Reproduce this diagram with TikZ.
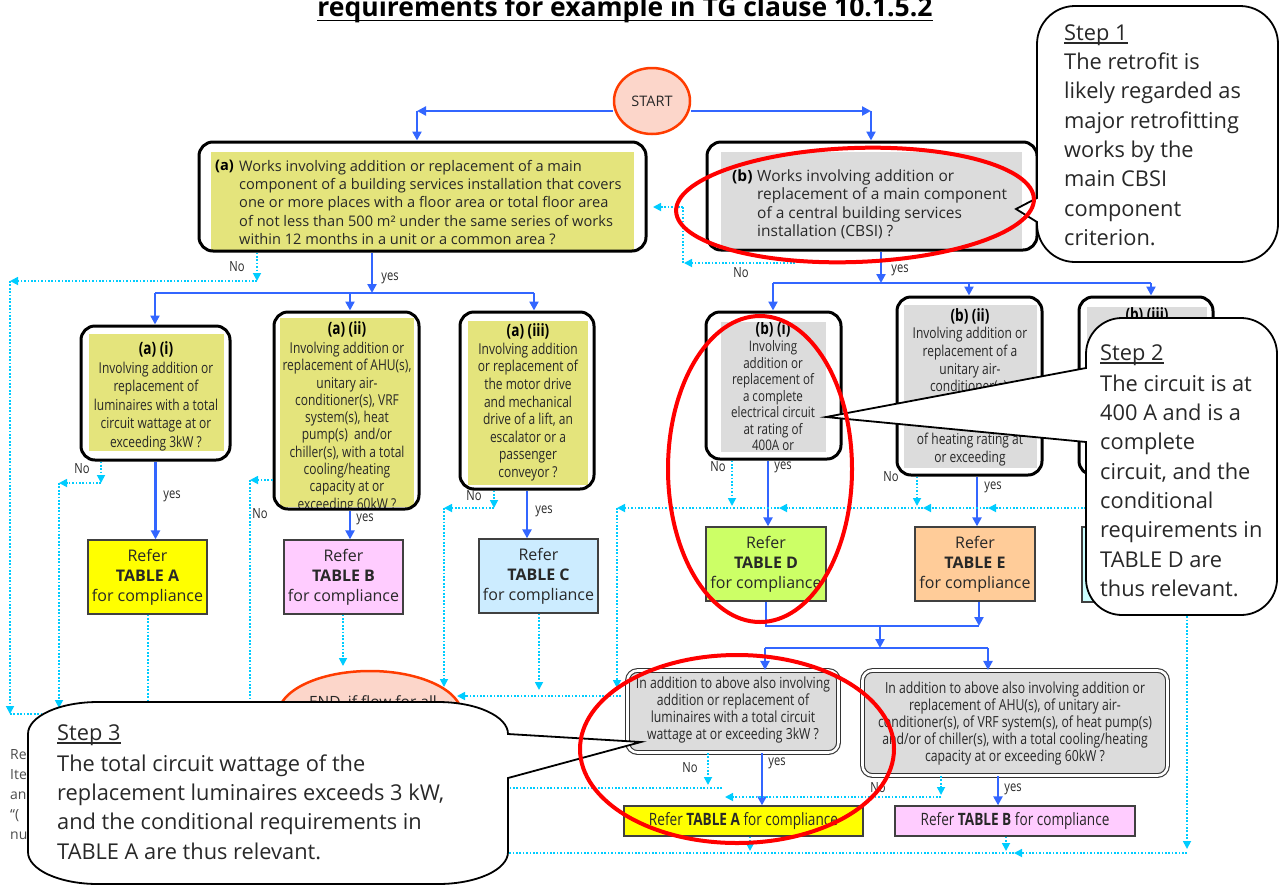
\documentclass[tikz,border=0pt]{standalone}
\usepackage{fontspec}
\setmainfont{Open Sans}
\newfontfamily\cf{Open Sans}[FakeStretch=0.8]
\usetikzlibrary{arrows.meta,shapes.geometric}
\definecolor{ygfill}{RGB}{228,228,124}
\definecolor{grayfill}{RGB}{220,220,220}
\definecolor{startfill}{RGB}{252,214,202}
\definecolor{startdraw}{RGB}{255,60,0}
\definecolor{myblue}{RGB}{51,102,255}
\definecolor{mycyan}{RGB}{0,204,255}
\definecolor{txt}{RGB}{40,40,40}
\definecolor{tAfill}{RGB}{255,255,0}
\definecolor{tBfill}{RGB}{255,204,255}
\definecolor{tCfill}{RGB}{204,236,255}
\definecolor{tDfill}{RGB}{204,255,102}
\definecolor{tEfill}{RGB}{255,204,153}
\definecolor{tFfill}{RGB}{204,255,255}
\definecolor{ringred}{RGB}{255,0,0}
\begin{document}
\begin{tikzpicture}[x=1pt,y=-1pt,
  decbox/.style={draw=black,line width=3pt,rounded corners=14pt,inner sep=0},
  dbox/.style={draw=black!80,line width=1.1pt,double=white,double distance=2.6pt,fill=grayfill,rounded corners=10pt,inner sep=0},
  tbl/.style={draw=black!75,line width=1.3pt,inner sep=0,align=center,text=txt,font=\fontsize{16}{20}\selectfont},
  btbl/.style={draw=black!75,line width=1.3pt,inner sep=0,text=txt,font=\cf\fontsize{17}{20}\selectfont},
  ybl/.style={draw=myblue,line width=2.8pt,-{Triangle[length=9pt,width=9pt]}},
  bline/.style={draw=myblue,line width=2.8pt},
  noarr/.style={draw=mycyan,line width=1.7pt,dash pattern=on 1.7pt off 1.7pt,-{Triangle[length=8pt,width=8pt]}},
  noline/.style={draw=mycyan,line width=1.7pt,dash pattern=on 1.7pt off 1.7pt},
  lbl/.style={inner sep=0,text=txt,font=\cf\fontsize{14}{14}\selectfont},
  ttl/.style={inner sep=0,text=black,font=\cf\bfseries\fontsize{17}{20}\selectfont},
  sbody/.style={inner sep=0,align=center,text=txt,anchor=north},
  callout/.style={draw=black,line width=1.8pt,fill=white},
  ctext/.style={inner sep=0,align=left,text=txt,font=\fontsize{21.8}{29.3}\selectfont},
  ring/.style={draw=ringred,line width=4pt}]
\useasboundingbox (0,0) rectangle (1287,884);

% title
\node[anchor=base,inner sep=0,font=\bfseries\fontsize{26.5}{30}\selectfont] (title) at (625,16) {requirements for example in TG clause 10.1.5.2};
\draw[line width=1.8pt] ([yshift=-4.5pt]title.base west) -- ([yshift=-4.5pt]title.base east);

% START
\node[ellipse,draw=startdraw,fill=startfill,line width=2.5pt,minimum width=76pt,minimum height=66pt,inner sep=0,text=txt,font=\fontsize{14.5}{16}\selectfont] (start) at (652,101) {START};

% box (a)
\fill[ygfill] (211,152) rectangle (634,250);
\node[anchor=north west,inner sep=0,text=black,font=\bfseries\fontsize{14.6}{18.3}\selectfont] (alab) at (215,159.8) {(a)};
\node[anchor=north west,inner sep=0,align=left,text=txt,font=\fontsize{14.6}{18.3}\selectfont] (atext) at (239,159.8) {Works involving addition or replacement of a main\\component of a building services installation that covers\\one or more places with a floor area or total floor area\\of not less than 500 m² under the same series of works\\within 12 months in a unit or a common area ?};
\node[decbox,minimum width=447pt,minimum height=109pt] (boxa) at (422.5,196.5) {};

% box (b)
\fill[grayfill] (721,152) rectangle (1022,248);
\node[anchor=north west,inner sep=0,text=black,font=\bfseries\fontsize{15.5}{18.5}\selectfont] (blab) at (732,169.4) {(b)};
\node[anchor=north west,inner sep=0,align=left,text=txt,font=\fontsize{15.5}{18.5}\selectfont] (btext) at (757,169.4) {Works involving addition or\\replacement of a main component\\of a central building services\\installation (CBSI) ?};
\node[decbox,minimum width=330pt,minimum height=108pt] (boxb) at (872,196) {};

% (a)(i)
\begin{scope}
\clip (89,334) rectangle (224,451);
\fill[ygfill] (89,334) rectangle (224,451);
\node[ttl] (aittl) at (156,349) {(a) (i)};
\node[sbody,font=\cf\fontsize{15}{18.5}\selectfont] (aibody) at (156,361.6) {Involving addition or\\replacement of\\luminaires with a total\\circuit wattage at or\\exceeding 3kW ?};
\end{scope}
\node[decbox,minimum width=149pt,minimum height=134pt] (ai) at (155.5,393) {};

% (a)(ii)
\begin{scope}
\clip (280,318) rectangle (414,507);
\fill[ygfill] (280,318) rectangle (414,507);
\node[ttl] (aiittl) at (347,329) {(a) (ii)};
\node[sbody,font=\cf\fontsize{15}{17.3}\selectfont] (aiibody) at (347,341.8) {Involving addition or\\replacement of AHU(s),\\unitary air-\\conditioner(s), VRF\\system(s), heat\\pump(s)\ \ and/or\\chiller(s), with a total\\cooling/heating\\capacity at or\\exceeding 60kW ?};
\end{scope}
\node[decbox,minimum width=145pt,minimum height=197pt] (aii) at (346.5,410.5) {};

% (a)(iii)
\begin{scope}
\clip (468,321) rectangle (588,485);
\fill[ygfill] (468,321) rectangle (588,485);
\node[ttl] (aiiittl) at (528,331) {(a) (iii)};
\node[sbody,font=\cf\fontsize{15}{17.6}\selectfont] (aiiibody) at (528,342.6) {Involving addition\\or replacement of\\the motor drive\\and mechanical\\drive of a lift, an\\escalator or a\\passenger\\conveyor ?};
\end{scope}
\node[decbox,minimum width=134pt,minimum height=177pt] (aiii) at (527,400.5) {};

% (b)(i)
\begin{scope}
\clip (721,322) rectangle (826,452);
\fill[grayfill] (721,322) rectangle (826,452);
\node[ttl] (bittl) at (773,329) {(b) (i)};
\node[sbody,font=\cf\fontsize{14.5}{16.5}\selectfont] (bibody) at (773,340.4) {Involving\\addition or\\replacement of\\a complete\\electrical circuit\\at rating of\\400A or};
\end{scope}
\node[decbox,minimum width=135pt,minimum height=147pt] (bi) at (773.5,385.5) {};

% (b)(ii)
\begin{scope}
\clip (904,305) rectangle (1037,468);
\fill[grayfill] (904,305) rectangle (1037,468);
\node[ttl] (biittl) at (970,316) {(b) (ii)};
\node[sbody,font=\cf\fontsize{15}{17.7}\selectfont] (biibody) at (970,327.1) {Involving addition or\\replacement of a\\unitary air-\\conditioner(s),\\\mbox{}\\\mbox{}\\of heating rating at\\or exceeding};
\end{scope}
\node[decbox,minimum width=145pt,minimum height=178pt] (bii) at (969.5,386) {};

% (b)(iii)
\begin{scope}
\clip (1087,307) rectangle (1207,468);
\fill[grayfill] (1087,307) rectangle (1207,468);
\node[ttl] (biiittl) at (1147,315) {(b) (iii)};
\end{scope}
\node[decbox,minimum width=134pt,minimum height=178pt] (biii) at (1146,386) {};

% tables
\node[tbl,fill=tAfill,minimum width=119pt,minimum height=74pt] (tA) at (147.5,577) {Refer\\\textbf{TABLE A}\\for compliance};
\node[tbl,fill=tBfill,minimum width=119pt,minimum height=74pt] (tB) at (343.5,577) {Refer\\\textbf{TABLE B}\\for compliance};
\node[tbl,fill=tCfill,minimum width=119pt,minimum height=74pt] (tC) at (538.5,576) {Refer\\\textbf{TABLE C}\\for compliance};
\node[tbl,fill=tDfill,minimum width=120pt,minimum height=74pt] (tD) at (766,564) {Refer\\\textbf{TABLE D}\\for compliance};
\node[tbl,fill=tEfill,minimum width=120pt,minimum height=74pt] (tE) at (975,564) {Refer\\\textbf{TABLE E}\\for compliance};
\node[tbl,fill=tFfill,minimum width=118pt,minimum height=75pt] (tF) at (1141,564.5) {};

% lower conditional boxes
\node[dbox,minimum width=211pt,minimum height=82pt] (cL) at (733,711.5) {};
\node[sbody,anchor=center,font=\cf\fontsize{15.3}{16.8}\selectfont] (cLtext) at (733,710) {In addition to above also involving\\addition or replacement of\\luminaires with a total circuit\\wattage at or exceeding 3kW ?};
\node[dbox,minimum width=305pt,minimum height=105pt] (cR) at (1015,723) {};
\node[sbody,anchor=center,font=\cf\fontsize{15.3}{17}\selectfont] (cRtext) at (1015,724) {In addition to above also involving addition or\\replacement of AHU(s), of unitary air-\\conditioner(s), of VRF system(s), of heat pump(s)\\and/or of chiller(s), with a total cooling/heating\\capacity at or exceeding 60kW ?};

\node[btbl,fill=tAfill,minimum width=239pt,minimum height=30pt] (bA) at (743.5,821) {Refer \textbf{TABLE A} for compliance};
\node[btbl,fill=tBfill,minimum width=240pt,minimum height=30pt] (bB) at (1015,821) {Refer \textbf{TABLE B} for compliance};

% END
\node[ellipse,draw=startdraw,fill=startfill,line width=2.5pt,minimum width=184pt,minimum height=88pt,inner sep=0] (endn) at (370,715) {};
\node[anchor=base,inner sep=0,text=txt,font=\fontsize{15.5}{18}\selectfont] (endtext) at (373,707) {END, if flow for all};

% ---------- blue connectors ----------
\coordinate (sL) at (417,111);
\coordinate (sR) at (871,111);
\draw[ybl] ([yshift=-10pt]start.west) -- (sL);
\draw[ybl] (sL) -- (sL |- boxa.north);
\draw[ybl] ([yshift=-10pt]start.east) -- (sR);
\draw[ybl] (sR) -- (sR |- boxb.north);

\coordinate (ja) at (372,293);
\coordinate (ja1) at (155,293);
\coordinate (ja2) at (350,293);
\coordinate (ja3) at (534,293);
\draw[ybl] (boxa.south -| ja) -- (ja);
\draw[bline] (ja1) -- (ja3);
\draw[ybl] (ja1) -- (ja1 |- ai.north);
\draw[ybl] (ja2) -- (ja2 |- aii.north);
\draw[ybl] (ja3) -- (ja3 |- aiii.north);
\draw[ybl] (ai.south) -- (ai.south |- tA.north);
\draw[ybl] (aii.south -| ja2) -- (ja2 |- tB.north);
\draw[ybl] (aiii.south) -- (aiii.south |- tC.north);

\coordinate (jb) at (881,283);
\coordinate (jb1) at (773,283);
\coordinate (jb2) at (969,283);
\coordinate (jb3) at (1151,283);
\draw[ybl] (boxb.south -| jb) -- (jb);
\draw[bline] (jb1) -- (jb3);
\draw[ybl] (jb1) -- (jb1 |- bi.north);
\draw[ybl] (jb2) -- (jb2 |- bii.north);
\draw[ybl] (jb3) -- (jb3 |- biii.north);
\coordinate (xbi) at (768,0);
\coordinate (xbii) at (977,0);
\draw[ybl] (bi.south -| xbi) -- (xbi |- tD.north);
\draw[ybl] (bii.south -| xbii) -- (xbii |- tE.north);

\coordinate (m1) at (766,626);
\coordinate (m2) at (979,626);
\coordinate (m3) at (880,626);
\coordinate (m4) at (880,648);
\coordinate (m5) at (765,648);
\coordinate (m6) at (988,648);
\draw[bline] (tD.south -| m1) -- (m1) -- (m2);
\draw[ybl] (tE.south -| m2) -- (m2);
\draw[ybl] (m3) -- (m4);
\draw[bline] (m5) -- (m6);
\draw[ybl] (m5) -- (m5 |- cL.north);
\draw[ybl] (m6) -- (m6 |- cR.north);
\coordinate (xcl) at (762,0);
\coordinate (xcr) at (998,0);
\draw[ybl] (cL.south -| xcl) -- (xcl |- bA.north);
\draw[ybl] (cR.south -| xcr) -- (xcr |- bB.north);

% ---------- cyan "No" connectors ----------
\coordinate (na1) at (257,281);
\coordinate (na2) at (10,281);
\coordinate (na3) at (10,714);
\draw[noarr] (boxa.south -| na1) -- (na1);
\draw[noarr] (na1) -- (na2);
\draw[noarr] (na2) -- (na3);
\draw[noline] (na3) -- (endn.west |- na3);

\coordinate (n1a) at (101,483);
\coordinate (n1b) at (59,483);
\coordinate (n1c) at (59,708);
\draw[noarr] (ai.south -| n1a) -- (n1a);
\draw[noarr] (n1a) -- (n1b);
\draw[noarr] (n1b) -- (n1c);

\coordinate (n2a) at (250,480);
\coordinate (n2b) at (250,706);
\draw[noarr] (aii.west |- n2a) -- (n2a);
\draw[noline] (n2a) -- (n2b);

\coordinate (n3a) at (494,508);
\coordinate (n3b) at (444,508);
\coordinate (n3c) at (444,687);
\draw[noarr] (aiii.south -| n3a) -- (n3a);
\draw[noarr] (n3a) -- (n3b);
\draw[noarr] (n3b) -- (n3c);

\coordinate (tax) at (148,706);
\coordinate (tbx) at (343,666);
\coordinate (tcx) at (539,690);
\draw[noline] (tA.south -| tax) -- (tax);
\draw[noarr] (tB.south -| tbx) -- (tbx);
\draw[noarr] (tC.south -| tcx) -- (tcx);

\coordinate (r0) at (1086,508);
\coordinate (r1) at (988,508);
\coordinate (r2) at (923,508);
\coordinate (r3) at (779,508);
\coordinate (r4) at (617,508);
\coordinate (r5) at (617,688);
\coordinate (r6) at (621,696);
\coordinate (r7) at (457,696);
\draw[noarr] (r0) -- (r1);
\draw[noarr] (r1) -- (r2);
\draw[noarr] (r2) -- (r3);
\draw[noarr] (r3) -- (r4);
\draw[noarr] (r4) -- (r5);
\draw[noarr] (r6) -- (r7);

\coordinate (nbi) at (732,506);
\coordinate (nbii) at (917,506);
\draw[noarr] (bi.south -| nbi) -- (nbi);
\draw[noarr] (bii.south -| nbii) -- (nbii);

\coordinate (nb1) at (795,263);
\coordinate (nb2) at (684,263);
\coordinate (nb3) at (683,207);
\coordinate (nb4) at (653,207);
\draw[noarr] (nb1) -- (nb2);
\draw[noline] (nb2 -| nb3) -- (nb3);
\draw[noarr] (nb3) -- (nb4);

\coordinate (ncl1) at (708,785);
\coordinate (ncl2) at (722,788);
\coordinate (ncl3) at (500,788);
\draw[noarr] (cL.south -| ncl1) -- (ncl1);
\draw[noline] (ncl2) -- (ncl3);

\coordinate (ncr1) at (941,795);
\coordinate (ncr2) at (941,797);
\coordinate (ncr3) at (725,797);
\draw[noarr] (cR.south -| ncr1) -- (ncr1);
\draw[noarr] (ncr2) -- (ncr3);

\coordinate (nbA) at (750,851);
\coordinate (nbB) at (1006,851);
\coordinate (nf1) at (1187,604);
\coordinate (nf2) at (1187,849);
\coordinate (nf3) at (1187,853);
\coordinate (nf4) at (1014,853);
\coordinate (nf5) at (500,853);
\draw[noarr] (bA.south -| nbA) -- (nbA);
\draw[noarr] (bB.south -| nbB) -- (nbB);
\draw[noarr] (tF.south -| nf1) -- (nf2);
\draw[noarr] (nf3) -- (nf4);
\draw[noline] (nf4) -- (nf5);

% ---------- labels ----------
\node[lbl] (l1) at (237,267) {No};
\node[lbl] (l2) at (390,278) {yes};
\node[lbl] (l3) at (741,273) {No};
\node[lbl] (l4) at (900,270) {yes};
\node[lbl] (l5) at (82,469) {No};
\node[lbl] (l6) at (172,496) {yes};
\node[lbl] (l7) at (260,514) {No};
\node[lbl] (l8) at (365,519) {yes};
\node[lbl] (l9) at (474,496) {No};
\node[lbl] (l10) at (544,511) {yes};
\node[lbl] (l11) at (718,467) {No};
\node[lbl] (l12) at (783,467) {yes};
\node[lbl] (l13) at (891,477) {No};
\node[lbl] (l14) at (993,487) {yes};
\node[lbl] (l15) at (1092,477) {No};
\node[lbl] (l16) at (690,768) {No};
\node[lbl] (l17) at (777,763) {yes};
\node[lbl] (l18) at (878,788) {No};
\node[lbl] (l19) at (1013,789) {yes};

% left partial text
\node[anchor=north west,inner sep=0,align=left,text=black!70,font=\fontsize{14}{20}\selectfont] (rem) at (10,749) {Re\\Ite\\an\\“(\\nu};

% ---------- callouts ----------
\draw[callout] (1037,222) -- (1037,224) arc[start angle=180,end angle=270,radius=38pt] -- (1240,262) arc[start angle=270,end angle=360,radius=38pt] -- (1278,44) arc[start angle=0,end angle=90,radius=38pt] -- (1075,6) arc[start angle=90,end angle=180,radius=38pt] -- (1037,198) -- (1016,209) -- cycle;
\node[ctext,anchor=base west] (s1) at (1064,40) {Step 1};
\draw[line width=1.5pt,txt] ([yshift=-3pt]s1.base west) -- ([yshift=-3pt]s1.base east);
\node[ctext,anchor=north west] (c1) at (1064,52.8) {The retrofit is\\likely regarded as\\major retrofitting\\works by the\\main CBSI\\component\\criterion.};

\draw[callout] (1086,442) -- (1086,579) arc[start angle=180,end angle=270,radius=36pt] -- (1241,615) arc[start angle=270,end angle=360,radius=36pt] -- (1277,354) arc[start angle=0,end angle=90,radius=36pt] -- (1122,318) arc[start angle=90,end angle=180,radius=36pt] -- (1086,368) -- (826,417) -- cycle;
\node[ctext,anchor=base west] (s2) at (1100,360) {Step 2};
\draw[line width=1.5pt,txt] ([yshift=-3pt]s2.base west) -- ([yshift=-3pt]s2.base east);
\node[ctext,anchor=north west] (c2) at (1100,374.5) {The circuit is at\\400 A and is a\\complete\\circuit, and the\\conditional\\requirements in\\TABLE D are\\thus relevant.};

\draw[callout] (508,778) -- (508,852) arc[start angle=0,end angle=-90,x radius=70pt,y radius=32pt] -- (98,884) arc[start angle=-90,end angle=-180,x radius=70pt,y radius=32pt] -- (28,734) arc[start angle=180,end angle=90,x radius=70pt,y radius=32pt] -- (438,702) arc[start angle=90,end angle=0,x radius=70pt,y radius=32pt] -- (641,742) -- cycle;
\node[ctext,anchor=base west] (s3) at (57,740) {Step 3};
\draw[line width=1.5pt,txt] ([yshift=-3pt]s3.base west) -- ([yshift=-3pt]s3.base east);
\node[ctext,anchor=north west] (c3) at (57,754.3) {The total circuit wattage of the\\replacement luminaires exceeds 3 kW,\\and the conditional requirements in\\TABLE A are thus relevant.};

% ---------- red rings ----------
\draw[ring,rotate around={2:(855,205)}] (855,205) ellipse [x radius=179pt,y radius=57pt];
\draw[ring] (760,469) ellipse [x radius=92pt,y radius=153pt];
\draw[ring] (737,749) ellipse [x radius=157pt,y radius=94pt];
\end{tikzpicture}
\end{document}
